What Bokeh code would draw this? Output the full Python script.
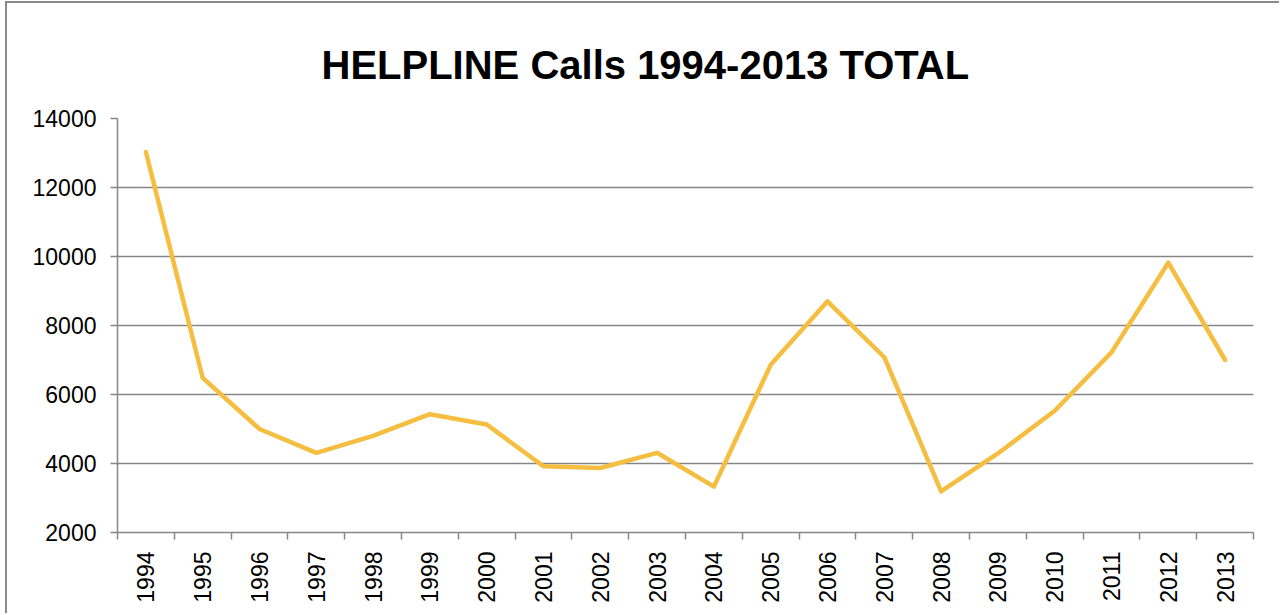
import math
from bokeh.plotting import figure
from bokeh.models import FixedTicker, Range1d, Title
from bokeh.embed import file_html
from bokeh.resources import INLINE

years = [str(y) for y in range(1994, 2014)]
calls = [13030, 6480, 5000, 4310, 4800, 5430, 5130, 3920, 3870, 4310,
         3330, 6860, 8700, 7080, 3190, 4290, 5530, 7220, 9820, 7000]
y_ticks = [2000, 4000, 6000, 8000, 10000, 12000, 14000]

xs = [i + 0.5 for i in range(len(years))]

p = figure(width=1274, height=612, output_backend="svg", toolbar_location=None,
           x_range=Range1d(0, len(years)), y_range=Range1d(2000, 14000),
           min_border_left=110, min_border_right=28, min_border_top=115,
           min_border_bottom=83)
p.styles = {"margin-left": "5px", "margin-top": "1px",
            "border-left": "2px solid #8a8a8a", "border-top": "2px solid #8a8a8a"}
p.outline_line_color = None
p.background_fill_color = "white"
p.border_fill_color = "white"

t = Title(text="HELPLINE Calls 1994-2013 TOTAL", text_font="Liberation Sans",
          text_font_size="40px", text_font_style="bold", align="left",
          text_color="black", offset=204, standoff=64)
p.add_layout(t, "above")

p.line(xs, calls, line_color="#F5BE41", line_width=4.5, line_cap="round", line_join="round")

gray = "#868686"
p.yaxis.ticker = FixedTicker(ticks=y_ticks)
p.yaxis.axis_line_color = gray
p.yaxis.axis_line_width = 1.5
p.yaxis.major_tick_line_color = gray
p.yaxis.major_tick_line_width = 1.5
p.yaxis.major_tick_out = 7
p.yaxis.major_tick_in = 0
p.yaxis.minor_tick_line_color = None
p.yaxis.major_label_text_font = "Liberation Sans"
p.yaxis.major_label_text_font_size = "23px"
p.yaxis.major_label_text_color = "black"
p.yaxis.major_label_standoff = 14

p.xaxis.ticker = FixedTicker(ticks=xs, minor_ticks=list(range(len(years) + 1)))
p.xaxis.major_label_overrides = {x: y for x, y in zip(xs, years)}
p.xaxis.major_label_orientation = math.pi / 2
p.xaxis.axis_line_color = gray
p.xaxis.axis_line_width = 1.5
p.xaxis.major_tick_line_color = None
p.xaxis.minor_tick_line_color = gray
p.xaxis.minor_tick_line_width = 1.5
p.xaxis.minor_tick_out = 7
p.xaxis.minor_tick_in = 0
p.xaxis.major_label_text_font = "Liberation Sans"
p.xaxis.major_label_text_font_size = "23px"
p.xaxis.major_label_text_color = "black"
p.xaxis.major_label_standoff = 12

p.xgrid.grid_line_color = None
p.ygrid.grid_line_color = gray
p.ygrid.grid_line_width = 1.5

open("out.html", "w").write(file_html(p, INLINE))
